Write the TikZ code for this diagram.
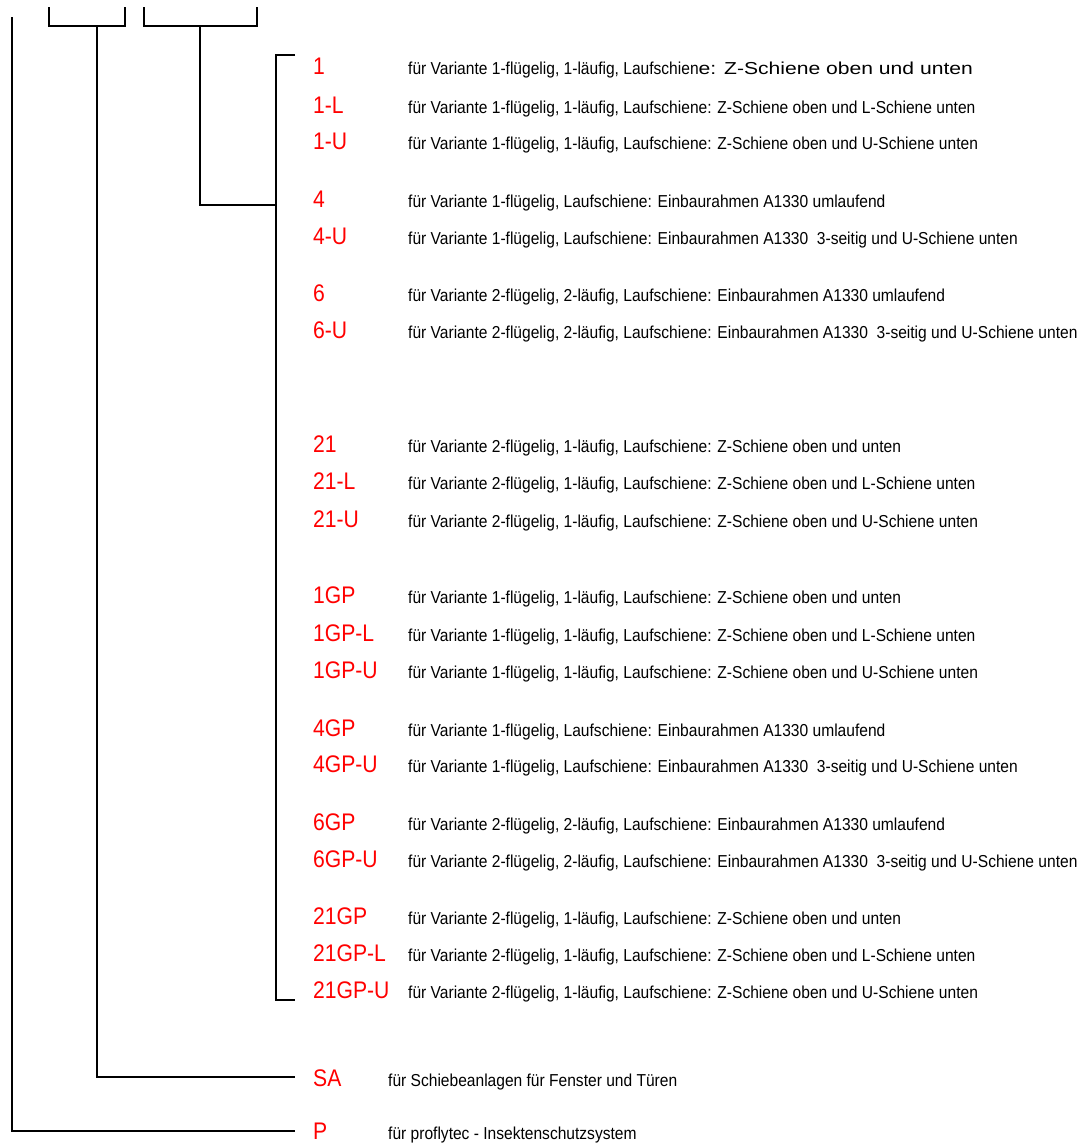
\documentclass[tikz,border=0pt]{standalone}
\usepackage{fontspec}
\setmainfont{Liberation Sans}
\newfontfamily\descfont[FakeStretch=0.9]{Liberation Sans}
\newfontfamily\widefont[FakeStretch=1.22]{Liberation Sans}
\newfontfamily\codefont[FakeStretch=0.88]{Liberation Sans}
\begin{document}
\begin{tikzpicture}[x=1pt,y=-1pt,
  code/.style={anchor=base west, inner sep=0pt, text={rgb,255:red,255;green,0;blue,0}, font=\codefont\fontsize{24}{24}\selectfont},
  desc/.style={anchor=base west, inner sep=0pt, font=\descfont\fontsize{17.3}{17.3}\selectfont},
  conn/.style={draw=black, line width=1.2pt}]
\useasboundingbox (0,0) rectangle (1081,1144);

% top brackets
\coordinate (a1) at (49,7);  \coordinate (a2) at (49,26);
\coordinate (a3) at (125,26); \coordinate (a4) at (125,7);
\coordinate (b1) at (144,7);  \coordinate (b2) at (144,26);
\coordinate (b3) at (257,26); \coordinate (b4) at (257,7);
\draw[conn] (a1) -- (a2) -- (a3) -- (a4);
\draw[conn] (b1) -- (b2) -- (b3) -- (b4);

% long lines
\coordinate (ltop) at (12,17);   \coordinate (lbot) at (12,1131);  \coordinate (pend) at (295,1131);
\coordinate (mtop) at (97,26);   \coordinate (mbot) at (97,1077);  \coordinate (send) at (295,1077);
\coordinate (stop) at (200,26);  \coordinate (sbot) at (200,205);  \coordinate (sjoin) at (276,205);
\coordinate (gtop) at (276,55);  \coordinate (gtick) at (295,55);
\coordinate (gbot) at (276,1000); \coordinate (gbtick) at (295,1000);
\draw[conn] (ltop) -- (lbot) -- (pend);
\draw[conn] (mtop) -- (mbot) -- (send);
\draw[conn] (stop) -- (sbot) -- (sjoin);
\draw[conn] (gtick) -- (gtop) -- (gbot) -- (gbtick);

% first row (its tail is set wider in the reference)
\node[code] (c74) at (313,74) {1};
\node[desc] (d74) at (408,74) {für Variante 1-flügelig, 1-läufig, Laufschien{\widefont e: Z-Schiene oben und unten}};

% other rows
\foreach \yy/\cc/\dd in {
 113/1-L/{für Variante 1-flügelig, 1-läufig, Laufschiene: Z-Schiene oben und L-Schiene unten},
 149/1-U/{für Variante 1-flügelig, 1-läufig, Laufschiene: Z-Schiene oben und U-Schiene unten},
 207/4/{für Variante 1-flügelig, Laufschiene: Einbaurahmen A1330 umlaufend},
 244/4-U/{für Variante 1-flügelig, Laufschiene: Einbaurahmen A1330\ \ 3-seitig und U-Schiene unten},
 301/6/{für Variante 2-flügelig, 2-läufig, Laufschiene: Einbaurahmen A1330 umlaufend},
 338/6-U/{für Variante 2-flügelig, 2-läufig, Laufschiene: Einbaurahmen A1330\ \ 3-seitig und U-Schiene unten},
 452/21/{für Variante 2-flügelig, 1-läufig, Laufschiene: Z-Schiene oben und unten},
 489/21-L/{für Variante 2-flügelig, 1-läufig, Laufschiene: Z-Schiene oben und L-Schiene unten},
 527/21-U/{für Variante 2-flügelig, 1-läufig, Laufschiene: Z-Schiene oben und U-Schiene unten},
 603/1GP/{für Variante 1-flügelig, 1-läufig, Laufschiene: Z-Schiene oben und unten},
 641/1GP-L/{für Variante 1-flügelig, 1-läufig, Laufschiene: Z-Schiene oben und L-Schiene unten},
 678/1GP-U/{für Variante 1-flügelig, 1-läufig, Laufschiene: Z-Schiene oben und U-Schiene unten},
 736/4GP/{für Variante 1-flügelig, Laufschiene: Einbaurahmen A1330 umlaufend},
 772/4GP-U/{für Variante 1-flügelig, Laufschiene: Einbaurahmen A1330\ \ 3-seitig und U-Schiene unten},
 830/6GP/{für Variante 2-flügelig, 2-läufig, Laufschiene: Einbaurahmen A1330 umlaufend},
 867/6GP-U/{für Variante 2-flügelig, 2-läufig, Laufschiene: Einbaurahmen A1330\ \ 3-seitig und U-Schiene unten},
 924/21GP/{für Variante 2-flügelig, 1-läufig, Laufschiene: Z-Schiene oben und unten},
 961/21GP-L/{für Variante 2-flügelig, 1-läufig, Laufschiene: Z-Schiene oben und L-Schiene unten},
 998/21GP-U/{für Variante 2-flügelig, 1-läufig, Laufschiene: Z-Schiene oben und U-Schiene unten}}
{
 \node[code] (c\yy) at (313,\yy) {\cc};
 \node[desc] (d\yy) at (408,\yy) {\dd};
}

% bottom rows
\node[code] (sa) at (313,1086) {SA};
\node[desc] (sad) at (388,1086) {für Schiebeanlagen für Fenster und Türen};
\node[code] (p) at (313,1139) {P};
\node[desc] (pd) at (388,1139) {für proflytec - Insektenschutzsystem};
\end{tikzpicture}
\end{document}
